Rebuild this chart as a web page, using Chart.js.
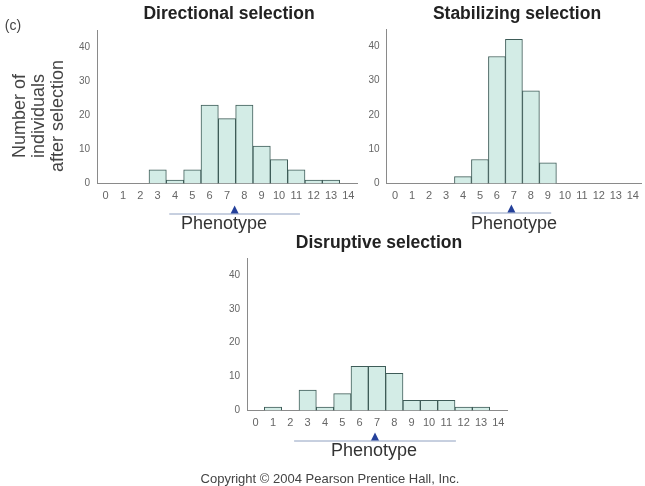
<!DOCTYPE html>
<html>
<head>
<meta charset="utf-8">
<script src="https://cdn.jsdelivr.net/npm/chart.js@4.4.1/dist/chart.umd.min.js"></script>
<style>
  html, body { margin: 0; padding: 0; background: #fff; }
  #wrap { position: relative; width: 645px; height: 486px; overflow: hidden; font-family: "Liberation Sans", Arial, sans-serif; }
  canvas { position: absolute; left: 0; top: 0; }
  .t { position: absolute; white-space: nowrap; transform: translate(-50%, -50%); }
  .title { font-weight: bold; font-size: 17.5px; color: #222; }
  .pheno { font-size: 18px; color: #333; }
  .ylab { position: absolute; left: 38px; top: 116px; transform: translate(-50%, -50%) rotate(-90deg); text-align: center; font-size: 18px; line-height: 19px; color: #444; white-space: nowrap; }
</style>
</head>
<body>
<div id="wrap">
  <canvas id="c1" width="645" height="486"></canvas>
  <canvas id="c2" width="645" height="486"></canvas>
  <canvas id="c3" width="645" height="486"></canvas>
  <div class="t" style="left:13px;top:25px;font-size:14px;color:#444;">(c)</div>
  <div class="ylab">Number of<br>individuals<br>after selection</div>
  <div class="t title" style="left:229px;top:13px;">Directional selection</div>
  <div class="t title" style="left:517px;top:13px;">Stabilizing selection</div>
  <div class="t title" style="left:379px;top:242px;">Disruptive selection</div>
  <div class="t pheno" style="left:224px;top:223px;">Phenotype</div>
  <div class="t pheno" style="left:514px;top:223px;">Phenotype</div>
  <div class="t pheno" style="left:374px;top:450px;">Phenotype</div>
  <div class="t" style="left:330px;top:478px;font-size:13px;color:#444;">Copyright © 2004 Pearson Prentice Hall, Inc.</div>
</div>
<script>
// Phenotype classes along the x axis
const phenotypes = ['0','1','2','3','4','5','6','7','8','9','10','11','12','13','14'];
// Number of individuals after selection in each phenotype class
const directional = [0, 0, 0, 4, 1, 4, 23, 19, 23, 11, 7, 4, 1, 1, 0];
const stabilizing = [0, 0, 0, 0, 2, 7, 37, 42, 27, 6, 0, 0, 0, 0, 0];
const disruptive  = [0, 1, 0, 6, 1, 5, 13, 13, 11, 3, 3, 3, 1, 1, 0];
// Count axis ticks
const countTicks = [0, 10, 20, 30, 40];
const countMax = 45;

const FILL = '#d3ece6';
const EDGE = '#3e5c58';
const AXIS = '#8a8a8a';
const TICKTXT = '#666';

// Mean phenotype (triangle) and mean ± k SD (underline) from the counts
function stats(counts) {
  let n = 0, s = 0, s2 = 0;
  counts.forEach((c, i) => { n += c; s += c * i; s2 += c * i * i; });
  const mean = s / n;
  const sd = Math.sqrt(s2 / n - mean * mean);
  return { mean, sd };
}

const phenoMarker = {
  id: 'phenoMarker',
  afterDraw(chart, args, opts) {
    const { ctx } = chart;
    const x = chart.scales.x;
    const { mean, sd } = stats(chart.data.datasets[0].data);
    const y = chart.chartArea.bottom + opts.offset;
    const px = v => x.getPixelForValue(v);
    ctx.save();
    ctx.strokeStyle = '#8fa0c0';
    ctx.lineWidth = 1;
    ctx.beginPath();
    ctx.moveTo(px(mean - opts.spread * sd), y + 0.5);
    ctx.lineTo(px(mean + opts.spread * sd), y + 0.5);
    ctx.stroke();
    const m = px(mean);
    ctx.fillStyle = '#24409a';
    ctx.beginPath();
    ctx.moveTo(m, y - 8);
    ctx.lineTo(m - 4, y);
    ctx.lineTo(m + 4, y);
    ctx.closePath();
    ctx.fill();
    ctx.restore();
  }
};

function makeChart(id, data, area, markerOpts) {
  const W = 645, H = 486;
  const yW = 30, xH = 16;
  return new Chart(document.getElementById(id), {
    type: 'bar',
    data: {
      labels: phenotypes,
      datasets: [{
        data: data,
        backgroundColor: FILL,
        borderColor: EDGE,
        borderWidth: 1,
        borderSkipped: 'bottom',
        barPercentage: 1,
        categoryPercentage: 1
      }]
    },
    options: {
      responsive: false,
      animation: false,
      devicePixelRatio: 1,
      layout: {
        padding: {
          left: area.left - yW,
          right: W - area.right,
          top: area.top,
          bottom: H - area.bottom - xH
        }
      },
      plugins: {
        legend: { display: false },
        tooltip: { enabled: false },
        phenoMarker: markerOpts
      },
      scales: {
        x: {
          grid: { display: false, drawTicks: false },
          border: { display: true, color: AXIS, width: 1 },
          ticks: {
            color: TICKTXT,
            font: { family: 'Liberation Sans', size: 11 },
            padding: 6,
            maxRotation: 0,
            autoSkip: false
          },
          afterFit(s) { s.height = xH; }
        },
        y: {
          min: 0,
          max: countMax,
          grid: { display: false, drawTicks: true, tickLength: 4, tickColor: AXIS, drawOnChartArea: false },
          border: { display: true, color: AXIS, width: 1 },
          ticks: {
            color: TICKTXT,
            font: { family: 'Liberation Sans', size: 10 },
            padding: 3
          },
          afterBuildTicks(s) { s.ticks = countTicks.map(v => ({ value: v })); },
          afterFit(s) { s.width = yW; }
        }
      }
    },
    plugins: [phenoMarker]
  });
}

makeChart('c1', directional, { left: 97, right: 357, top: 30, bottom: 183.5 }, { offset: 30, spread: 2 });
makeChart('c2', stabilizing, { left: 386.5, right: 644, top: 29, bottom: 183.5 }, { offset: 29, spread: 2.25 });
makeChart('c3', disruptive,  { left: 247, right: 507, top: 258, bottom: 410.5 }, { offset: 30, spread: 2 });
</script>
</body>
</html>
